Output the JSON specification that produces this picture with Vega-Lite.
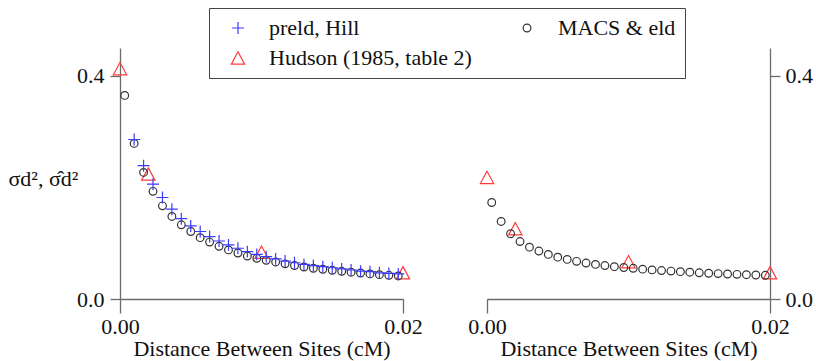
{
  "$schema": "https://vega.github.io/schema/vega-lite/v6.json",
  "padding": {"left": 8, "top": 7, "right": 5, "bottom": 2},
  "spacing": 84,
  "bounds": "flush",
  "config": {
    "font": "Liberation Serif",
    "view": {"stroke": null},
    "axis": {"grid": false, "domainColor": "#6b6b6b", "tickColor": "#6b6b6b", "domainWidth": 1.3, "tickWidth": 1.3, "labelFont": "Liberation Serif", "labelFontSize": 22, "labelColor": "#111111", "titleFont": "Liberation Serif", "titleFontSize": 22, "titleFontWeight": "normal", "titleColor": "#111111", "labelFlush": false}
  },
  "datasets": {
    "d": [
      {"panel": "L", "series": "Hudson (1985, table 2)", "x": 0, "y": 0.413},
      {"panel": "L", "series": "Hudson (1985, table 2)", "x": 0.002, "y": 0.224},
      {"panel": "L", "series": "Hudson (1985, table 2)", "x": 0.01, "y": 0.084},
      {"panel": "L", "series": "Hudson (1985, table 2)", "x": 0.02, "y": 0.047},
      {"panel": "R", "series": "Hudson (1985, table 2)", "x": 0, "y": 0.218},
      {"panel": "R", "series": "Hudson (1985, table 2)", "x": 0.002, "y": 0.126},
      {"panel": "R", "series": "Hudson (1985, table 2)", "x": 0.01, "y": 0.067},
      {"panel": "R", "series": "Hudson (1985, table 2)", "x": 0.02, "y": 0.047},
      {"panel": "L", "series": "MACS & eld", "x": 0.000333, "y": 0.365},
      {"panel": "L", "series": "MACS & eld", "x": 0.001, "y": 0.279},
      {"panel": "L", "series": "MACS & eld", "x": 0.001667, "y": 0.227},
      {"panel": "L", "series": "MACS & eld", "x": 0.002333, "y": 0.193},
      {"panel": "L", "series": "MACS & eld", "x": 0.003, "y": 0.167},
      {"panel": "L", "series": "MACS & eld", "x": 0.003667, "y": 0.148},
      {"panel": "L", "series": "MACS & eld", "x": 0.004333, "y": 0.133},
      {"panel": "L", "series": "MACS & eld", "x": 0.005, "y": 0.121},
      {"panel": "L", "series": "MACS & eld", "x": 0.005667, "y": 0.110},
      {"panel": "L", "series": "MACS & eld", "x": 0.006333, "y": 0.102},
      {"panel": "L", "series": "MACS & eld", "x": 0.007, "y": 0.0945},
      {"panel": "L", "series": "MACS & eld", "x": 0.007667, "y": 0.088},
      {"panel": "L", "series": "MACS & eld", "x": 0.008333, "y": 0.0825},
      {"panel": "L", "series": "MACS & eld", "x": 0.009, "y": 0.077},
      {"panel": "L", "series": "MACS & eld", "x": 0.009667, "y": 0.073},
      {"panel": "L", "series": "MACS & eld", "x": 0.010333, "y": 0.0694},
      {"panel": "L", "series": "MACS & eld", "x": 0.011, "y": 0.0664},
      {"panel": "L", "series": "MACS & eld", "x": 0.011667, "y": 0.063},
      {"panel": "L", "series": "MACS & eld", "x": 0.012333, "y": 0.060},
      {"panel": "L", "series": "MACS & eld", "x": 0.013, "y": 0.0574},
      {"panel": "L", "series": "MACS & eld", "x": 0.013667, "y": 0.0551},
      {"panel": "L", "series": "MACS & eld", "x": 0.014333, "y": 0.0533},
      {"panel": "L", "series": "MACS & eld", "x": 0.015, "y": 0.0515},
      {"panel": "L", "series": "MACS & eld", "x": 0.015667, "y": 0.0497},
      {"panel": "L", "series": "MACS & eld", "x": 0.016333, "y": 0.048},
      {"panel": "L", "series": "MACS & eld", "x": 0.017, "y": 0.0466},
      {"panel": "L", "series": "MACS & eld", "x": 0.017667, "y": 0.045},
      {"panel": "L", "series": "MACS & eld", "x": 0.018333, "y": 0.0437},
      {"panel": "L", "series": "MACS & eld", "x": 0.019, "y": 0.0425},
      {"panel": "L", "series": "MACS & eld", "x": 0.019667, "y": 0.0413},
      {"panel": "L", "series": "preld, Hill", "x": 0.001, "y": 0.286},
      {"panel": "L", "series": "preld, Hill", "x": 0.001667, "y": 0.239},
      {"panel": "L", "series": "preld, Hill", "x": 0.002333, "y": 0.206},
      {"panel": "L", "series": "preld, Hill", "x": 0.003, "y": 0.182},
      {"panel": "L", "series": "preld, Hill", "x": 0.003667, "y": 0.161},
      {"panel": "L", "series": "preld, Hill", "x": 0.004333, "y": 0.144},
      {"panel": "L", "series": "preld, Hill", "x": 0.005, "y": 0.131},
      {"panel": "L", "series": "preld, Hill", "x": 0.005667, "y": 0.121},
      {"panel": "L", "series": "preld, Hill", "x": 0.006333, "y": 0.112},
      {"panel": "L", "series": "preld, Hill", "x": 0.007, "y": 0.104},
      {"panel": "L", "series": "preld, Hill", "x": 0.007667, "y": 0.097},
      {"panel": "L", "series": "preld, Hill", "x": 0.008333, "y": 0.091},
      {"panel": "L", "series": "preld, Hill", "x": 0.009, "y": 0.085},
      {"panel": "L", "series": "preld, Hill", "x": 0.009667, "y": 0.080},
      {"panel": "L", "series": "preld, Hill", "x": 0.010333, "y": 0.076},
      {"panel": "L", "series": "preld, Hill", "x": 0.011, "y": 0.072},
      {"panel": "L", "series": "preld, Hill", "x": 0.011667, "y": 0.068},
      {"panel": "L", "series": "preld, Hill", "x": 0.012333, "y": 0.065},
      {"panel": "L", "series": "preld, Hill", "x": 0.013, "y": 0.062},
      {"panel": "L", "series": "preld, Hill", "x": 0.013667, "y": 0.060},
      {"panel": "L", "series": "preld, Hill", "x": 0.014333, "y": 0.058},
      {"panel": "L", "series": "preld, Hill", "x": 0.015, "y": 0.056},
      {"panel": "L", "series": "preld, Hill", "x": 0.015667, "y": 0.054},
      {"panel": "L", "series": "preld, Hill", "x": 0.016333, "y": 0.052},
      {"panel": "L", "series": "preld, Hill", "x": 0.017, "y": 0.050},
      {"panel": "L", "series": "preld, Hill", "x": 0.017667, "y": 0.049},
      {"panel": "L", "series": "preld, Hill", "x": 0.018333, "y": 0.047},
      {"panel": "L", "series": "preld, Hill", "x": 0.019, "y": 0.046},
      {"panel": "L", "series": "preld, Hill", "x": 0.019667, "y": 0.045},
      {"panel": "R", "series": "MACS & eld", "x": 0.000333, "y": 0.173},
      {"panel": "R", "series": "MACS & eld", "x": 0.001, "y": 0.139},
      {"panel": "R", "series": "MACS & eld", "x": 0.001667, "y": 0.117},
      {"panel": "R", "series": "MACS & eld", "x": 0.002333, "y": 0.103},
      {"panel": "R", "series": "MACS & eld", "x": 0.003, "y": 0.093},
      {"panel": "R", "series": "MACS & eld", "x": 0.003667, "y": 0.086},
      {"panel": "R", "series": "MACS & eld", "x": 0.004333, "y": 0.080},
      {"panel": "R", "series": "MACS & eld", "x": 0.005, "y": 0.075},
      {"panel": "R", "series": "MACS & eld", "x": 0.005667, "y": 0.071},
      {"panel": "R", "series": "MACS & eld", "x": 0.006333, "y": 0.0675},
      {"panel": "R", "series": "MACS & eld", "x": 0.007, "y": 0.0645},
      {"panel": "R", "series": "MACS & eld", "x": 0.007667, "y": 0.062},
      {"panel": "R", "series": "MACS & eld", "x": 0.008333, "y": 0.060},
      {"panel": "R", "series": "MACS & eld", "x": 0.009, "y": 0.058},
      {"panel": "R", "series": "MACS & eld", "x": 0.009667, "y": 0.0565},
      {"panel": "R", "series": "MACS & eld", "x": 0.010333, "y": 0.055},
      {"panel": "R", "series": "MACS & eld", "x": 0.011, "y": 0.0535},
      {"panel": "R", "series": "MACS & eld", "x": 0.011667, "y": 0.0522},
      {"panel": "R", "series": "MACS & eld", "x": 0.012333, "y": 0.051},
      {"panel": "R", "series": "MACS & eld", "x": 0.013, "y": 0.050},
      {"panel": "R", "series": "MACS & eld", "x": 0.013667, "y": 0.049},
      {"panel": "R", "series": "MACS & eld", "x": 0.014333, "y": 0.048},
      {"panel": "R", "series": "MACS & eld", "x": 0.015, "y": 0.047},
      {"panel": "R", "series": "MACS & eld", "x": 0.015667, "y": 0.0462},
      {"panel": "R", "series": "MACS & eld", "x": 0.016333, "y": 0.0455},
      {"panel": "R", "series": "MACS & eld", "x": 0.017, "y": 0.0448},
      {"panel": "R", "series": "MACS & eld", "x": 0.017667, "y": 0.0442},
      {"panel": "R", "series": "MACS & eld", "x": 0.018333, "y": 0.0436},
      {"panel": "R", "series": "MACS & eld", "x": 0.019, "y": 0.043},
      {"panel": "R", "series": "MACS & eld", "x": 0.019667, "y": 0.0425}
    ]
  },
  "data": {"name": "d"},
  "hconcat": [
    {
      "width": 283,
      "height": 251,
      "transform": [{"filter": "datum.panel === 'L'"}],
      "mark": {"type": "point", "filled": false, "size": 196, "strokeWidth": 1.2, "opacity": 1},
      "encoding": {
        "x": {"field": "x", "type": "quantitative", "scale": {"domain": [0, 0.02], "nice": false, "zero": false},
              "axis": {"values": [0, 0.02], "format": ".2f", "title": "Distance Between Sites (cM)", "tickSize": 14, "labelPadding": 3, "titlePadding": 1}},
        "y": {"field": "y", "type": "quantitative", "scale": {"domain": [0, 0.45], "nice": false},
              "axis": {"values": [0, 0.4], "format": ".1f", "title": "σd², σ̂d²", "titleAngle": 0, "titleAlign": "left", "titleBaseline": "middle", "titleX": -112, "titleY": 130, "tickSize": 10, "labelPadding": 6}},
        "color": {"field": "series", "type": "nominal",
                  "scale": {"domain": ["preld, Hill", "Hudson (1985, table 2)", "MACS & eld"], "range": ["#3b3bff", "#ff3b3b", "#333333"]},
                  "legend": {"orient": "none", "legendX": 89, "legendY": -40, "columns": 2, "title": null, "strokeColor": "#444444", "padding": 9, "symbolOffset": 9, "labelOffset": 20, "columnPadding": 35, "rowPadding": 8, "labelFont": "Liberation Serif", "labelFontSize": 22, "labelColor": "#111111", "labelLimit": 400, "symbolSize": 196, "symbolStrokeWidth": 1.2}},
        "shape": {"field": "series", "type": "nominal",
                  "scale": {"domain": ["preld, Hill", "Hudson (1985, table 2)", "MACS & eld"], "range": ["M-0.85,0H0.85M0,-0.85V0.85", "M0,-0.88L0.95,0.88L-0.95,0.88Z", "M-0.55,0A0.55,0.55,0,1,0,0.55,0A0.55,0.55,0,1,0,-0.55,0Z"]}}
      }
    },
    {
      "width": 283,
      "height": 251,
      "transform": [{"filter": "datum.panel === 'R'"}],
      "mark": {"type": "point", "filled": false, "size": 196, "strokeWidth": 1.2, "opacity": 1},
      "encoding": {
        "x": {"field": "x", "type": "quantitative", "scale": {"domain": [0, 0.02], "nice": false, "zero": false},
              "axis": {"values": [0, 0.02], "format": ".2f", "title": "Distance Between Sites (cM)", "tickSize": 14, "labelPadding": 3, "titlePadding": 1}},
        "y": {"field": "y", "type": "quantitative", "scale": {"domain": [0, 0.45], "nice": false},
              "axis": {"orient": "right", "values": [0, 0.4], "format": ".1f", "title": null, "tickSize": 10, "labelPadding": 5}},
        "color": {"field": "series", "type": "nominal"},
        "shape": {"field": "series", "type": "nominal"}
      }
    }
  ]
}
